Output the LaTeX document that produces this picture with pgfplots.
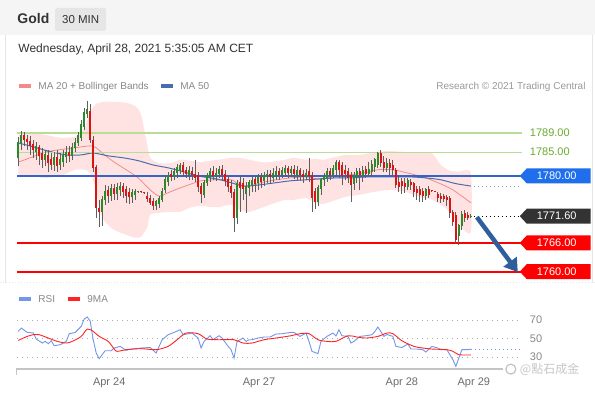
\documentclass[border=0pt]{standalone}
\usepackage{pgfplots}
\pgfplotsset{compat=1.18}
\usepackage{pgfplotstable}
\usetikzlibrary{arrows.meta}
\usepackage{fontspec}
\setmainfont{Liberation Sans}
\newfontfamily\cjk{Noto Sans CJK TC}

\definecolor{cup}{HTML}{2A8A2A}
\definecolor{cdn}{HTML}{D81414}
\definecolor{wick}{HTML}{5E5E5E}
\definecolor{lgline}{HTML}{B9DC98}
\definecolor{lgtext}{HTML}{6AAB2F}
\definecolor{bline}{HTML}{3564C8}
\definecolor{btag}{HTML}{1F6EEB}
\definecolor{rline}{HTML}{FF0000}
\definecolor{dtag}{HTML}{333333}
\definecolor{ma50}{HTML}{4A6DB0}
\definecolor{ma50d}{HTML}{8FA3CC}
\definecolor{ma20}{HTML}{F08C8C}
\definecolor{bbfill}{HTML}{FFE3E3}
\definecolor{arrowc}{HTML}{2F5E9C}
\definecolor{txt}{HTML}{333333}
\definecolor{gtxt}{HTML}{888888}
\definecolor{ltxt}{HTML}{9A9A9A}
\definecolor{hdr}{HTML}{F5F5F5}
\definecolor{hdrbox}{HTML}{E6E6E6}
\definecolor{axl}{HTML}{C4C4C4}
\definecolor{rsic}{HTML}{7595E6}
\definecolor{nmac}{HTML}{FF2424}
\definecolor{lvl}{HTML}{ABABAB}

% rising candles (close above open)
\pgfplotstableread{
i o h l c
0 1783.8 1788.2 1782.1 1786.9
1 1786.9 1789.4 1785.5 1788.4
6 1785.0 1787.1 1783.4 1786.1
9 1783.4 1785.5 1782.1 1784.4
12 1782.3 1785.0 1781.1 1783.8
14 1782.3 1784.8 1781.3 1783.4
15 1782.9 1785.5 1781.9 1784.2
16 1784.0 1786.3 1782.7 1785.0
18 1784.2 1786.9 1783.4 1785.9
19 1785.9 1788.0 1785.0 1787.1
20 1786.9 1789.2 1786.3 1788.4
21 1788.0 1791.7 1787.3 1790.7
22 1790.3 1794.2 1789.6 1793.2
23 1793.0 1795.7 1792.1 1793.8
28 1772.5 1775.8 1769.6 1775.0
29 1775.0 1778.1 1774.0 1776.7
31 1775.8 1778.4 1774.8 1777.3
33 1776.3 1778.6 1775.0 1777.5
34 1777.1 1778.8 1775.8 1777.9
38 1775.6 1777.3 1774.4 1776.5
39 1776.1 1777.3 1775.0 1776.7
40 1776.7 1776.9 1776.5 1776.8
46 1773.8 1775.0 1772.9 1774.6
47 1774.2 1775.8 1773.3 1775.2
48 1775.0 1777.5 1774.6 1776.7
49 1777.1 1780.0 1776.5 1779.2
50 1778.8 1780.9 1777.9 1780.0
52 1779.8 1781.7 1779.2 1780.9
53 1780.6 1782.5 1779.6 1781.7
54 1781.3 1782.7 1780.4 1782.1
57 1780.2 1782.1 1779.2 1781.1
62 1776.1 1779.2 1775.4 1778.6
63 1778.6 1780.6 1777.9 1780.0
64 1779.6 1781.7 1778.8 1780.9
66 1779.8 1781.7 1779.0 1780.6
67 1780.4 1782.1 1779.6 1781.3
73 1771.3 1779.2 1770.0 1778.4
76 1776.3 1778.8 1772.3 1777.9
77 1777.5 1779.2 1775.8 1778.6
78 1778.1 1779.8 1776.7 1779.0
80 1778.6 1780.4 1777.1 1779.6
82 1779.0 1780.9 1777.9 1780.0
83 1779.8 1781.3 1778.6 1780.4
85 1779.6 1781.7 1778.8 1780.6
86 1780.2 1782.1 1779.2 1780.9
88 1780.2 1781.9 1779.6 1781.1
89 1780.6 1782.3 1779.8 1781.5
91 1780.6 1782.1 1779.8 1781.3
93 1780.2 1782.1 1779.2 1781.1
96 1779.8 1781.5 1779.2 1780.6
100 1774.6 1778.1 1773.8 1777.5
101 1777.3 1779.6 1776.1 1779.2
102 1779.2 1780.6 1777.9 1779.8
103 1779.6 1781.7 1778.8 1780.9
105 1780.2 1782.3 1779.6 1781.5
106 1781.3 1783.4 1780.2 1782.9
112 1778.4 1780.9 1777.1 1780.0
113 1779.8 1781.7 1778.6 1780.9
115 1780.0 1782.1 1778.8 1781.1
117 1780.4 1782.9 1780.0 1781.3
118 1780.9 1783.4 1779.8 1782.3
119 1781.9 1783.8 1780.9 1783.4
120 1782.3 1785.0 1781.7 1784.6
123 1781.7 1783.8 1780.9 1782.7
130 1777.7 1779.6 1777.1 1779.0
136 1775.8 1777.5 1775.0 1777.1
147 1767.5 1770.0 1765.6 1769.6
148 1769.6 1772.7 1768.7 1771.9
151 1771.4 1772.0 1771.2 1771.6
}\upc

% falling candles (close below open)
\pgfplotstableread{
i o h l c
2 1788.4 1789.2 1786.3 1787.5
3 1787.7 1788.6 1785.5 1787.1
4 1787.3 1788.4 1784.4 1786.3
5 1786.5 1787.5 1783.8 1785.5
7 1785.9 1786.5 1782.3 1784.2
8 1784.6 1785.9 1781.7 1783.4
10 1784.2 1785.5 1780.9 1782.7
11 1783.4 1784.8 1781.3 1782.3
13 1783.8 1785.5 1780.9 1782.1
17 1785.0 1786.3 1782.9 1784.2
24 1793.4 1795.1 1786.9 1787.5
25 1787.5 1788.4 1780.9 1781.7
26 1781.7 1782.3 1771.3 1773.3
27 1773.3 1775.0 1769.4 1772.5
30 1776.9 1777.9 1774.4 1775.8
32 1777.3 1778.4 1775.0 1776.3
35 1777.9 1778.6 1775.4 1776.7
36 1777.1 1777.9 1774.4 1775.8
37 1776.5 1777.5 1774.2 1775.6
41 1776.7 1776.9 1776.5 1776.6
42 1776.5 1776.7 1776.3 1776.4
43 1775.8 1776.7 1774.6 1775.2
44 1775.4 1776.1 1774.0 1774.4
45 1774.6 1775.4 1772.9 1773.8
51 1780.4 1781.3 1779.0 1779.8
55 1782.1 1782.9 1780.0 1780.9
56 1781.1 1781.9 1779.6 1780.4
58 1780.9 1781.9 1779.2 1780.2
59 1780.4 1783.4 1778.8 1779.6
60 1780.0 1780.9 1776.7 1777.7
61 1777.7 1778.6 1774.4 1776.3
65 1780.9 1782.1 1779.2 1780.0
68 1781.3 1782.3 1779.2 1780.2
69 1780.4 1781.3 1777.9 1779.0
70 1779.2 1780.2 1776.7 1777.7
71 1777.9 1779.2 1775.4 1776.5
72 1776.5 1777.3 1768.3 1771.3
74 1778.6 1780.0 1772.5 1777.5
75 1778.4 1779.6 1775.0 1777.3
79 1779.2 1780.0 1776.7 1778.4
81 1779.6 1780.6 1777.5 1778.8
84 1780.4 1781.3 1778.4 1779.8
87 1780.9 1781.7 1779.2 1780.2
90 1781.5 1782.1 1779.6 1780.6
92 1781.3 1782.3 1779.4 1780.4
94 1781.1 1781.7 1779.0 1780.2
95 1780.4 1781.3 1778.6 1779.8
97 1780.9 1783.8 1778.8 1780.0
98 1780.0 1780.9 1772.5 1775.4
99 1776.7 1777.5 1773.1 1774.6
104 1780.9 1781.7 1779.2 1780.2
107 1782.9 1783.4 1779.6 1781.3
108 1782.1 1782.9 1778.1 1780.0
109 1781.1 1782.3 1779.2 1780.4
110 1780.9 1781.7 1778.6 1779.6
111 1780.0 1780.9 1774.6 1778.1
114 1780.9 1781.7 1777.1 1780.2
116 1781.3 1782.1 1779.6 1780.4
121 1784.6 1785.5 1781.9 1782.7
122 1782.9 1784.2 1780.9 1781.7
124 1782.7 1783.6 1780.2 1781.7
125 1782.1 1783.4 1780.0 1781.3
126 1781.1 1781.7 1777.5 1778.1
127 1778.6 1780.0 1776.7 1777.7
128 1778.8 1779.6 1776.3 1777.9
129 1778.4 1779.6 1776.5 1777.7
131 1778.6 1779.4 1777.1 1778.1
132 1778.4 1778.8 1775.6 1776.7
133 1777.1 1777.9 1775.0 1776.5
134 1777.1 1777.9 1774.6 1776.1
135 1776.7 1777.5 1774.6 1775.8
137 1777.1 1777.9 1775.4 1776.1
138 1776.9 1777.0 1776.7 1776.8
139 1776.8 1776.9 1776.6 1776.7
140 1776.1 1776.7 1774.6 1775.4
141 1775.8 1776.5 1774.4 1775.2
142 1775.8 1776.3 1774.6 1775.2
143 1775.6 1776.1 1773.8 1775.0
144 1775.2 1775.8 1771.3 1772.3
145 1772.3 1772.9 1769.6 1770.4
146 1771.7 1772.5 1766.0 1766.7
149 1772.1 1772.9 1770.4 1771.3
150 1771.7 1772.5 1770.9 1771.3
}\dnc

% Bollinger band outline: upper band left to right, then lower band right to left
\pgfplotstableread{
i p
0 1788.6
4 1789.0
9 1788.6
14 1788.0
19 1788.2
22 1790.0
24 1793.4
26 1795.1
27 1795.3
29 1795.5
32 1795.5
36 1795.3
39 1794.6
41 1792.8
43 1786.5
44 1783.8
47 1782.7
51 1782.7
54 1783.4
57 1783.2
61 1782.9
64 1783.2
67 1783.4
71 1783.8
74 1783.8
77 1783.4
81 1782.9
84 1782.9
89 1783.4
92 1783.8
96 1783.4
99 1783.6
102 1783.4
106 1784.0
109 1784.4
114 1784.4
119 1785.0
124 1785.2
129 1785.0
134 1784.8
138 1784.8
141 1782.3
144 1781.1
147 1780.9
151 1780.6
151 1768.3
147 1769.8
144 1772.5
141 1774.0
138 1775.0
134 1775.6
129 1776.7
124 1777.1
119 1776.7
114 1776.1
109 1775.6
106 1775.0
102 1774.2
99 1774.4
96 1775.4
92 1775.0
89 1775.0
84 1774.0
81 1773.3
77 1772.5
74 1772.9
71 1774.0
67 1773.5
64 1773.5
61 1773.8
57 1773.3
54 1772.5
51 1772.5
47 1772.3
44 1771.9
43 1769.2
41 1767.3
39 1767.1
36 1767.7
32 1768.7
29 1770.4
27 1772.9
26 1777.1
24 1780.6
22 1781.3
19 1781.3
14 1780.0
9 1779.6
4 1780.0
0 1780.0
}\bands

\pgfplotstableread{
i m
0 1782.9
4 1783.8
9 1785.0
14 1785.5
19 1785.9
24 1786.3
26 1785.9
28 1784.8
32 1782.9
36 1781.3
40 1779.6
44 1777.1
47 1775.8
50 1776.5
54 1777.5
58 1778.4
61 1779.0
66 1779.2
71 1779.2
74 1778.1
77 1777.9
81 1778.6
86 1779.2
91 1779.6
96 1779.8
100 1779.4
105 1779.8
110 1780.2
115 1780.6
120 1781.3
125 1781.3
130 1780.6
135 1779.8
140 1778.6
145 1777.1
151 1774.4
}\maTwenty

\pgfplotstableread{
i m
0 1786.9
5 1786.1
10 1785.2
16 1784.4
21 1784.4
25 1784.8
30 1784.2
35 1783.8
40 1783.2
45 1782.3
50 1781.7
55 1780.9
60 1780.0
66 1779.4
71 1778.6
75 1777.9
80 1778.1
86 1778.6
91 1779.0
96 1779.2
101 1779.4
106 1779.6
111 1779.6
116 1779.8
121 1779.8
126 1779.8
131 1779.8
136 1779.6
141 1779.2
146 1778.4
151 1777.9
}\maFifty

\pgfplotstableread{
i r
0 57.9
1 61.5
3 56.8
5 56.2
6 49.6
8 45.3
9 47.1
10 44.6
11 47.8
12 42.4
14 43.5
16 47.1
17 55.4
19 56.8
21 63.3
22 71.3
23 73.5
24 69.0
25 48.9
26 34.5
27 28.4
28 32.7
29 37.0
31 37.0
32 39.9
34 41.7
36 37.4
37 38.5
41 39.9
44 40.5
46 34.5
48 48.9
50 54.3
52 56.8
54 59.7
55 54.3
57 55.4
58 56.1
60 50.7
61 39.9
62 47.1
64 53.2
65 48.9
67 53.2
68 50.7
70 41.7
71 38.1
72 29.1
73 47.1
75 50.7
76 47.1
77 48.9
78 48.9
80 50.7
82 51.8
84 51.8
86 55.0
88 55.4
91 56.8
92 56.8
94 52.5
96 56.1
97 47.1
98 36.3
100 33.8
101 47.1
103 52.5
105 56.1
106 53.0
107 59.7
108 53.2
110 52.5
111 45.3
112 47.1
114 52.5
116 53.2
118 54.3
119 57.9
120 62.6
122 52.5
123 54.6
125 52.5
126 41.7
128 40.5
130 44.2
131 38.8
133 38.8
135 38.1
136 35.6
138 41.7
140 39.9
141 38.1
143 38.1
144 32.7
145 27.3
146 20.1
147 29.1
148 38.1
150 38.1
151 38.8
}\rsi

\pgfplotstableread{
i m
0 48.2
3 52.5
5 54.3
7 54.3
10 50.7
13 47.1
16 45.3
18 47.1
21 52.5
23 60.4
25 57.9
27 52.5
30 47.1
32 38.8
33 36.3
36 38.1
41 39.2
46 38.1
50 41.7
53 48.9
56 56.1
60 55.4
63 49.6
67 48.9
72 48.9
75 45.3
78 45.3
82 48.9
86 50.7
91 53.2
94 55.4
97 55.4
100 48.9
103 47.1
106 47.1
110 53.2
113 51.8
116 50.7
120 52.5
123 56.1
125 55.4
128 47.8
132 41.7
135 39.9
138 38.8
143 38.1
145 36.3
147 32.7
150 32.4
151 32.4
}\rsima

% price tag drawn at absolute height #2 (pt)
\newcommand\ptag[3]{%
  \fill[#1] (520pt,#2) -- ++(7pt,7.5pt) -- ++(64pt,0) -- ++(0,-15pt) -- ++(-64pt,0) -- cycle;
  \node[text=white, inner sep=0, font=\fontsize{11}{13}\selectfont] at (557pt,#2) {#3};
}

\begin{document}
\begin{tikzpicture}
\fill[white] (0,0) rectangle (595pt,396pt);
\fill[hdr] (0,361pt) rectangle (595pt,396pt);
\draw[hdrbox, line width=0.8pt] (5pt,113pt) -- (5pt,361pt);
\draw[hdrbox, line width=0.8pt] (593pt,113pt) -- (593pt,361pt);
\draw[hdrbox, line width=0.6pt, dash pattern=on 1pt off 2pt] (0,113pt) -- (595pt,113pt);

% header
\node[anchor=base west, inner sep=0, font=\bfseries\fontsize{14}{16}\selectfont, text=txt] at (17pt,372pt) {Gold};
\fill[hdrbox, rounded corners=1.5pt] (55pt,365pt) rectangle (106pt,388pt);
\node[anchor=base, inner sep=0, font=\fontsize{11.5}{14}\selectfont, text=txt] at (80.5pt,372.4pt) {30 MIN};
\node[anchor=base west, inner sep=0, font=\fontsize{12}{14}\selectfont, text=txt] at (18pt,343.7pt) {Wednesday, April 28, 2021 5:35:05 AM CET};

% legends
\fill[ma20] (19pt,308pt) rectangle (31pt,312pt);
\node[anchor=base west, inner sep=0, font=\fontsize{10}{12}\selectfont, text=gtxt] at (38pt,306.4pt) {MA 20 + Bollinger Bands};
\fill[ma50] (161pt,308pt) rectangle (173pt,312pt);
\node[anchor=base west, inner sep=0, font=\fontsize{10}{12}\selectfont, text=gtxt] at (180pt,306.4pt) {MA 50};
\node[anchor=base east, inner sep=0, font=\fontsize{10}{12}\selectfont, text=ltxt] at (586pt,306.4pt) {Research © 2021 Trading Central};

\fill[rsic] (19pt,95pt) rectangle (31pt,99pt);
\node[anchor=base west, inner sep=0, font=\fontsize{10}{12}\selectfont, text=gtxt] at (38pt,93.4pt) {RSI};
\fill[nmac] (68pt,95pt) rectangle (80pt,99pt);
\node[anchor=base west, inner sep=0, font=\fontsize{10}{12}\selectfont, text=gtxt] at (87pt,93.4pt) {9MA};

% main chart
\begin{axis}[at={(17pt,114pt)}, anchor=south west, width=505pt, height=182pt, scale only axis,
  xmin=-0.3333, xmax=168, ymin=1757.9, ymax=1795.9, hide axis, clip=false]
  \addplot[fill=bbfill, draw=none, smooth, tension=0.4] table[x=i,y=p]{\bands};
  \addplot[ma20, line width=0.8pt, smooth] table[x=i,y=m]{\maTwenty};
  \addplot[ma50, line width=1pt, smooth] table[x=i,y=m]{\maFifty};
  \addplot[ma50d, line width=0.9pt, dash pattern=on 1pt off 3pt] coordinates {(152,1777.9) (167.3,1777.9)};
  \addplot[black, line width=0.9pt, dash pattern=on 1pt off 3pt] coordinates {(152,1771.6) (167.3,1771.6)};
  \addplot[lgline, line width=1.3pt] coordinates {(-0.3333,1789) (168,1789)};
  \addplot[lgline, line width=1.1pt] coordinates {(-0.3333,1785) (168,1785)};
  \addplot[bline, line width=1.3pt] coordinates {(-0.3333,1780) (168,1780)};
  \addplot[rline, line width=2pt] coordinates {(-0.3333,1766) (168,1766)};
  \addplot[rline, line width=2pt] coordinates {(-0.3333,1760) (168,1760)};
  % wicks
  \addplot[wick, line width=0.9pt, quiver={u=0, v=\thisrow{h}-\thisrow{l}}] table[x=i, y=l]{\upc};
  \addplot[wick, line width=0.9pt, quiver={u=0, v=\thisrow{h}-\thisrow{l}}] table[x=i, y=l]{\dnc};
  % bodies
  \addplot[cup, line width=2.4pt, quiver={u=0, v=\thisrow{c}-\thisrow{o}+0.1}] table[x=i, y=o]{\upc};
  \addplot[cdn, line width=2.4pt, quiver={u=0, v=\thisrow{o}-\thisrow{c}+0.1}] table[x=i, y=c]{\dnc};
\end{axis}

% arrow and price labels
\draw[arrowc, line width=4.5pt, -{Triangle[length=13pt,width=16pt]}] (477pt,178.7pt) -- (518pt,123.6pt);
\node[anchor=west, inner sep=0, text=lgtext, font=\fontsize{11}{13}\selectfont] at (530pt,263pt) {1789.00};
\node[anchor=west, inner sep=0, text=lgtext, font=\fontsize{11}{13}\selectfont] at (530pt,243.8pt) {1785.00};
\ptag{btag}{219.9pt}{1780.00}
\ptag{dtag}{179.6pt}{1771.60}
\ptag{rline}{152.8pt}{1766.00}
\ptag{rline}{124.1pt}{1760.00}

% RSI
\begin{axis}[at={(17pt,27pt)}, anchor=south west, width=505pt, height=59pt, scale only axis,
  xmin=-0.3333, xmax=168, ymin=17.6, ymax=81.4, hide axis, clip=false]
  \addplot[lvl, line width=0.8pt, dash pattern=on 1pt off 4pt] coordinates {(-0.3333,70) (167.3,70)};
  \addplot[lvl, line width=0.8pt, dash pattern=on 1pt off 4pt] coordinates {(-0.3333,50) (167.3,50)};
  \addplot[lvl, line width=0.8pt, dash pattern=on 1pt off 4pt] coordinates {(-0.3333,30) (167.3,30)};
  \addplot[rsic, line width=0.9pt, dash pattern=on 1pt off 3pt] coordinates {(151,38.8) (167.3,38.8)};
  \addplot[rsic, line width=0.9pt] table[x=i,y=r]{\rsi};
  \addplot[nmac, line width=0.9pt, smooth] table[x=i,y=m]{\rsima};
\end{axis}
\node[anchor=west, inner sep=0, text=gtxt, font=\fontsize{11}{13}\selectfont] at (530pt,75.5pt) {70};
\node[anchor=west, inner sep=0, text=gtxt, font=\fontsize{11}{13}\selectfont] at (530pt,57pt) {50};
\node[anchor=west, inner sep=0, text=gtxt, font=\fontsize{11}{13}\selectfont] at (530pt,39pt) {30};

% time axis
\draw[axl, line width=1.8pt] (16pt,27pt) -- (503pt,27pt);
\draw[axl, line width=1pt] (16.5pt,27pt) -- (16.5pt,21pt);
\node[anchor=base, inner sep=0, font=\fontsize{11}{13}\selectfont, text=gtxt!80!black] at (109pt,10pt) {Apr 24};
\node[anchor=base, inner sep=0, font=\fontsize{11}{13}\selectfont, text=gtxt!80!black] at (259pt,10pt) {Apr 27};
\node[anchor=base, inner sep=0, font=\fontsize{11}{13}\selectfont, text=gtxt!80!black] at (402pt,10pt) {Apr 28};
\node[anchor=base, inner sep=0, font=\fontsize{11}{13}\selectfont, text=gtxt!80!black] at (474pt,10pt) {Apr 29};

% watermark
\draw[black!25, line width=1.1pt] (511pt,26.5pt) circle (5pt);
\node[anchor=west, inner sep=0, text=black!22, font=\cjk\fontsize{12}{14}\selectfont] at (520pt,26pt) {@點石成金};
\end{tikzpicture}
\end{document}
